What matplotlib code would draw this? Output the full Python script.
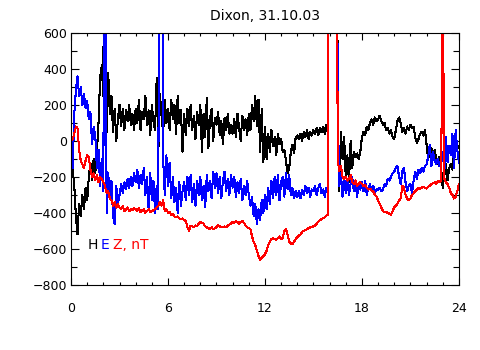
import matplotlib
matplotlib.use("Agg")
import matplotlib.pyplot as plt
import numpy as np
from matplotlib.ticker import MultipleLocator

# time axis: one sample every 0.1 h over the day
hours = np.round(np.arange(0, 24.05, 0.1), 1)

# values above the plot range mark the gaps / off-scale spikes in the record
H_nT = [
    -50, -150, -250, -420, -520, -350, -420, -300, -380, -260,
    -330, -200, -120, -220, -100, -180, -60, 100, 350, 420,
    250, 3000, 50, 380, 150, 250, 50, 180, 0, 120,
    200, 80, 180, 60, 170, 110, 200, 90, 150, 60,
    180, 100, 230, 60, 160, 120, 250, 90, 170, 30,
    200, 110, 60, 350, -70, 260, 140, 40, 230, 100,
    180, 60, 230, 120, 200, 40, 250, 100, 170, -60,
    150, 30, 180, 80, 200, 60, 140, 10, 160, 90,
    200, -60, 150, 20, 240, -40, 120, 180, 0, 130,
    90, 160, 30, 110, -20, 130, 60, 150, 40, 90,
    40, 120, 20, 150, 70, 0, 140, 60, 120, 30,
    150, 60, 200, 110, 250, 80, 230, -60, 180, -120,
    80, -100, 40, -60, 60, -30, 20, -80, 40, -20,
    10, -60, -50, -110, -180, -150, -60, -20, -70, 20,
    30, 10, 40, 0, 50, 20, 60, 10, 50, 30,
    60, 40, 70, 30, 70, 50, 80, 40, 90, 40,
    3000, 3000, 3000, 3000, 3000, 220, -280, 50, -100, 20,
    -200, -80, -230, 0, -150, -60, -90, -70, -100, -60,
    20, 50, 30, 80, 60, 100, 120, 90, 130, 110,
    120, 140, 110, 90, 100, 60, 70, 40, 60, 20,
    10, 60, 110, 130, 100, 50, 70, 40, 80, 60,
    90, 70, 80, 20, -10, 10, 40, 50, 30, 60,
    -20, -100, -60, -40, -80, -50, -100, -130, -90, -150,
    -260, -190, -130, -220, -150, -130, -160, -20, -10, -40,
    -30,
]

E_nT = [
    -100, -150, 150, 280, 360, 250, 300, 200, 260, 180,
    220, 120, 160, -20, 80, 30, -150, -50, -250, -100,
    -280, 3000, -400, -180, -320, -220, -420, -460, -250, -350,
    -300, -240, -290, -230, -270, -210, -260, -200, -250, -180,
    -230, -160, -260, -190, -240, -150, -300, -200, -380, -180,
    -330, -220, -400, -250, -380, 3000, 3000, -100, -300, -80,
    -250, -120, -320, -200, -340, -260, -400, -230, -360, -280,
    -230, -330, -200, -300, -190, -340, -240, -360, -220, -300,
    -200, -330, -250, -370, -190, -280, -220, -320, -170, -260,
    -180, -290, -200, -320, -220, -170, -280, -210, -300, -190,
    -260, -200, -310, -230, -290, -210, -330, -250, -300, -220,
    -300, -360, -310, -420, -350, -460, -380, -440, -330, -400,
    -300, -380, -260, -350, -220, -320, -200, -300, -190, -330,
    -230, -200, -310, -180, -270, -190, -300, -260, -320, -280,
    -310, -280, -320, -270, -300, -250, -290, -260, -310, -270,
    -280, -250, -300, -260, -240, -290, -270, -310, -260, -280,
    3000, 3000, 3000, 3000, 3000, 200, -250, -180, -310, -200,
    -290, -220, -300, -240, -200, -280, -230, -310, -250, -270,
    -230, -280, -220, -300, -260, -240, -280, -250, -290, -270,
    -270, -260, -280, -270, -240, -250, -210, -220, -200, -180,
    -170, -150, -140, -200, -240, -170, -150, -230, -280, -250,
    -240, -290, -220, -170, -210, -160, -180, -150, -170, -140,
    -130, -90, -20, -140, -60, -110, -130, -100, -140, -120,
    -60, -170, 20, -120, -30, -80, 40, -150, 60, -50,
    -120,
]

Z_nT = [
    0, 10, 40, 80, 70, -50, -110, -130, -150, -110,
    -80, -90, -160, -200, -180, -220, -190, -230, -200, -210,
    -230, -250, -290, -280, -320, -330, -360, -340, -370, -350,
    -370, -380, -360, -390, -380, -370, -390, -380, -385, -375,
    -380, -390, -375, -395, -385, -380, -400, -390, -380, -395,
    -390, -385, -380, -370, -360, -340, -360, -330, -390, -380,
    -400, -395, -410, -405, -420, -425, -420, -430, -435, -430,
    -440, -445, -480, -500, -470, -475, -480, -470, -475, -460,
    -450, -455, -460, -475, -480, -485, -490, -480, -490, -485,
    -480, -470, -475, -480, -478, -475, -480, -470, -465, -460,
    -450, -455, -445, -450, -460, -450, -445, -455, -470, -480,
    -485, -490, -530, -560, -580, -610, -640, -660, -650, -640,
    -630, -610, -580, -560, -545, -540, -545, -550, -540, -530,
    -545, -540, -500, -490, -520, -560, -570, -575, -560, -545,
    -535, -525, -520, -505, -500, -495, -490, -485, -480, -478,
    -475, -470, -460, -450, -440, -435, -430, -425, -415, -410,
    3000, 3000, 3000, 3000, 3000, -100, -170, -140, -200, -210,
    -200, -220, -210, -190, -230, -240, -220, -250, -240, -230,
    -240, -250, -245, -260, -270, -265, -275, -280, -300, -310,
    -330, -350, -370, -390, -395, -395, -400, -405, -410, -390,
    -370, -360, -350, -330, -320, -250, -260, -300, -320, -330,
    -320, -300, -290, -280, -270, -260, -265, -260, -255, -260,
    -265, -255, -250, -240, -235, -230, -240, -225, -230, -220,
    900, -210, -230, -240, -260, -290, -300, -320, -310, -280,
    -240,
]

fig = plt.figure(figsize=(4.8, 3.5), dpi=100)
ax = fig.add_axes([0.148, 0.186, 0.808, 0.72])

line_kw = dict(linewidth=0.75, antialiased=False)
ax.plot(hours, H_nT, color="black", **line_kw)
ax.plot(hours, E_nT, color="#0000ff", **line_kw)
ax.plot(hours, Z_nT, color="#ff0000", **line_kw)

ax.set_xlim(0, 24)
ax.set_ylim(-800, 600)
ax.xaxis.set_major_locator(MultipleLocator(6))
ax.xaxis.set_minor_locator(MultipleLocator(1))
ax.yaxis.set_major_locator(MultipleLocator(200))
ax.yaxis.set_minor_locator(MultipleLocator(100))
ax.tick_params(which="both", direction="in", top=True, right=True,
               labelsize=9, width=0.8)
ax.tick_params(axis="x", which="major", length=5, pad=12)
ax.tick_params(axis="x", which="minor", length=2.5)
ax.tick_params(axis="y", which="major", length=6, pad=3)
ax.tick_params(axis="y", which="minor", length=4)
for side in ax.spines.values():
    side.set_linewidth(0.8)

ax.set_title("Dixon, 31.10.03", fontsize=10, pad=9)

# component legend written in the line colours
ax.text(1.0, -600, "H", color="black", fontsize=10)
ax.text(1.85, -600, "E", color="#0000ff", fontsize=10)
ax.text(2.6, -600, "Z, nT", color="#ff0000", fontsize=10)

fig.savefig("out.png", dpi=100, facecolor="white")
